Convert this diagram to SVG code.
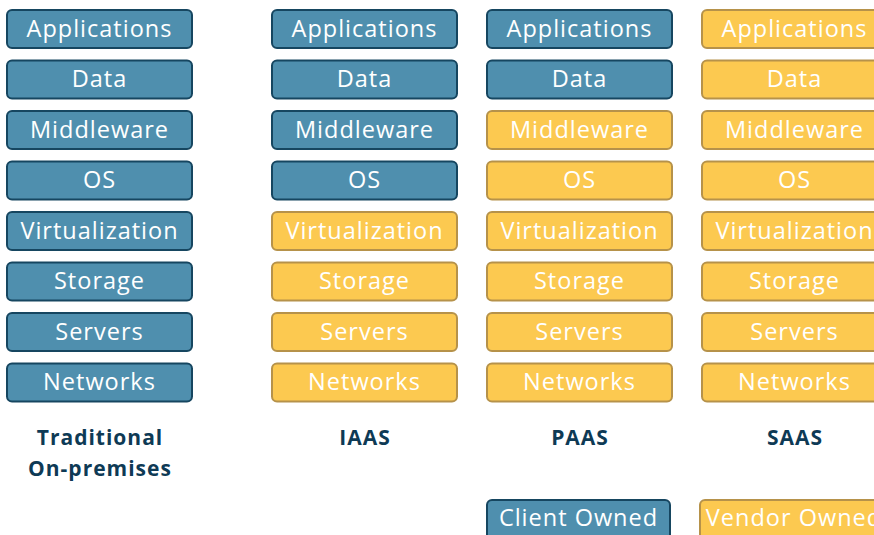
<svg xmlns="http://www.w3.org/2000/svg" width="874" height="535" viewBox="0 0 874 535">
<style>
.b rect{fill:#4f8fae;stroke:#164660;stroke-width:2}
.y rect{fill:#fcc950;stroke:#b6924a;stroke-width:2}
text{font-family:"Open Sans","Liberation Sans",sans-serif;font-size:23.5px;fill:#fff;text-anchor:middle;dominant-baseline:central;letter-spacing:1px}
text.h{fill:#0e3a55;font-weight:bold;font-size:21px;letter-spacing:1px}
</style>
<rect width="874" height="535" fill="#fff"/>
<g id="col1">
<g id="c1-apps" class="b"><rect x="7" y="10" width="185" height="38" rx="5"/><text x="99.5" y="27.5">Applications</text></g>
<g id="c1-data" class="b"><rect x="7" y="60.5" width="185" height="38" rx="5"/><text x="99.5" y="78">Data</text></g>
<g id="c1-mw" class="b"><rect x="7" y="111" width="185" height="38" rx="5"/><text x="99.5" y="128.5">Middleware</text></g>
<g id="c1-os" class="b"><rect x="7" y="161.5" width="185" height="38" rx="5"/><text x="99.5" y="179">OS</text></g>
<g id="c1-virt" class="b"><rect x="7" y="212" width="185" height="38" rx="5"/><text x="99.5" y="229.5">Virtualization</text></g>
<g id="c1-stor" class="b"><rect x="7" y="262.5" width="185" height="38" rx="5"/><text x="99.5" y="280">Storage</text></g>
<g id="c1-serv" class="b"><rect x="7" y="313" width="185" height="38" rx="5"/><text x="99.5" y="330.5">Servers</text></g>
<g id="c1-net" class="b"><rect x="7" y="363.5" width="185" height="38" rx="5"/><text x="99.5" y="381">Networks</text></g>
<g id="c1-label"><text class="h" x="100" y="437">Traditional</text><text class="h" x="100" y="468">On-premises</text></g>
</g>
<g id="col2">
<g id="c2-apps" class="b"><rect x="272" y="10" width="185" height="38" rx="5"/><text x="364.5" y="27.5">Applications</text></g>
<g id="c2-data" class="b"><rect x="272" y="60.5" width="185" height="38" rx="5"/><text x="364.5" y="78">Data</text></g>
<g id="c2-mw" class="b"><rect x="272" y="111" width="185" height="38" rx="5"/><text x="364.5" y="128.5">Middleware</text></g>
<g id="c2-os" class="b"><rect x="272" y="161.5" width="185" height="38" rx="5"/><text x="364.5" y="179">OS</text></g>
<g id="c2-virt" class="y"><rect x="272" y="212" width="185" height="38" rx="5"/><text x="364.5" y="229.5">Virtualization</text></g>
<g id="c2-stor" class="y"><rect x="272" y="262.5" width="185" height="38" rx="5"/><text x="364.5" y="280">Storage</text></g>
<g id="c2-serv" class="y"><rect x="272" y="313" width="185" height="38" rx="5"/><text x="364.5" y="330.5">Servers</text></g>
<g id="c2-net" class="y"><rect x="272" y="363.5" width="185" height="38" rx="5"/><text x="364.5" y="381">Networks</text></g>
<g id="c2-label"><text class="h" x="365" y="437">IAAS</text></g>
</g>
<g id="col3">
<g id="c3-apps" class="b"><rect x="487" y="10" width="185" height="38" rx="5"/><text x="579.5" y="27.5">Applications</text></g>
<g id="c3-data" class="b"><rect x="487" y="60.5" width="185" height="38" rx="5"/><text x="579.5" y="78">Data</text></g>
<g id="c3-mw" class="y"><rect x="487" y="111" width="185" height="38" rx="5"/><text x="579.5" y="128.5">Middleware</text></g>
<g id="c3-os" class="y"><rect x="487" y="161.5" width="185" height="38" rx="5"/><text x="579.5" y="179">OS</text></g>
<g id="c3-virt" class="y"><rect x="487" y="212" width="185" height="38" rx="5"/><text x="579.5" y="229.5">Virtualization</text></g>
<g id="c3-stor" class="y"><rect x="487" y="262.5" width="185" height="38" rx="5"/><text x="579.5" y="280">Storage</text></g>
<g id="c3-serv" class="y"><rect x="487" y="313" width="185" height="38" rx="5"/><text x="579.5" y="330.5">Servers</text></g>
<g id="c3-net" class="y"><rect x="487" y="363.5" width="185" height="38" rx="5"/><text x="579.5" y="381">Networks</text></g>
<g id="c3-label"><text class="h" x="580" y="437">PAAS</text></g>
</g>
<g id="col4">
<g id="c4-apps" class="y"><rect x="702" y="10" width="185" height="38" rx="5"/><text x="794.5" y="27.5">Applications</text></g>
<g id="c4-data" class="y"><rect x="702" y="60.5" width="185" height="38" rx="5"/><text x="794.5" y="78">Data</text></g>
<g id="c4-mw" class="y"><rect x="702" y="111" width="185" height="38" rx="5"/><text x="794.5" y="128.5">Middleware</text></g>
<g id="c4-os" class="y"><rect x="702" y="161.5" width="185" height="38" rx="5"/><text x="794.5" y="179">OS</text></g>
<g id="c4-virt" class="y"><rect x="702" y="212" width="185" height="38" rx="5"/><text x="794.5" y="229.5">Virtualization</text></g>
<g id="c4-stor" class="y"><rect x="702" y="262.5" width="185" height="38" rx="5"/><text x="794.5" y="280">Storage</text></g>
<g id="c4-serv" class="y"><rect x="702" y="313" width="185" height="38" rx="5"/><text x="794.5" y="330.5">Servers</text></g>
<g id="c4-net" class="y"><rect x="702" y="363.5" width="185" height="38" rx="5"/><text x="794.5" y="381">Networks</text></g>
<g id="c4-label"><text class="h" x="795" y="437">SAAS</text></g>
</g>
<g id="legend">
<g id="client-owned" class="b"><rect x="487" y="500" width="183" height="40" rx="5"/><text x="578.5" y="517">Client Owned</text></g>
<g id="vendor-owned" class="y"><rect x="700" y="500" width="190" height="40" rx="5"/><text x="794" y="517">Vendor Owned</text></g>
</g>
<g id="connectors"></g>
</svg>
